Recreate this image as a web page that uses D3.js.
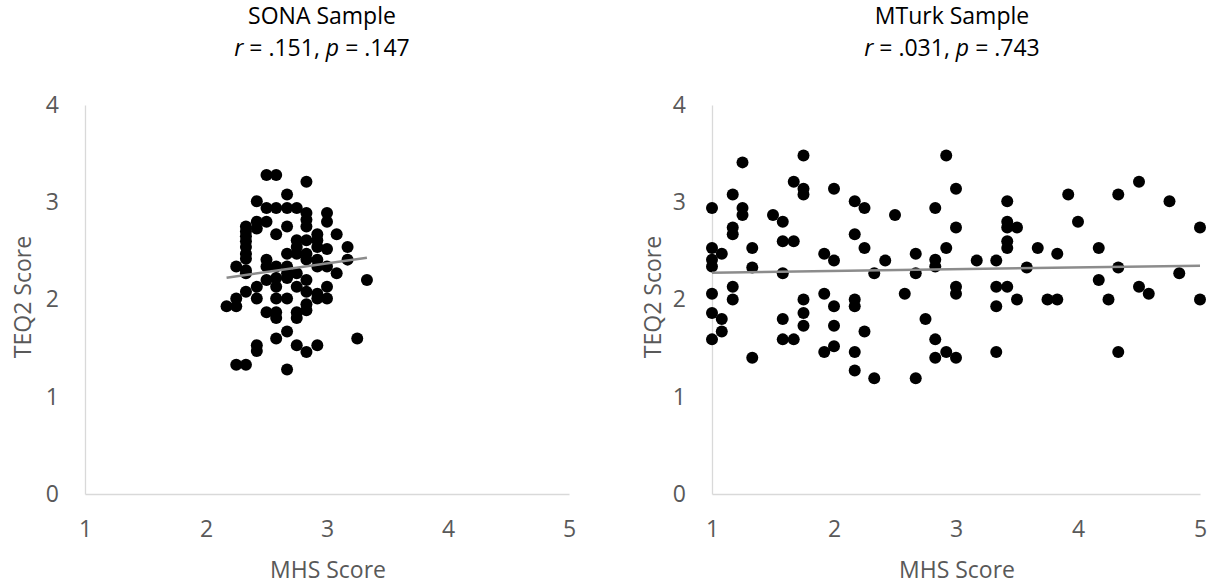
<!DOCTYPE html>
<html>
<head>
<meta charset="utf-8">
<script src="https://cdn.jsdelivr.net/npm/d3@7"></script>
<style>
  body { margin: 0; background: #fff; }
  svg { font-family: "Open Sans", "Noto Sans", sans-serif; }
</style>
</head>
<body>
<svg></svg>
<script>
const svgWidth = 1217
const svgHeight = 588

// tick values
const xTicks = [1, 2, 3, 4, 5]
const yTicks = [0, 1, 2, 3, 4]

// SONA sample: [MHS, TEQ2]
const sonaPoints = [
  [2.50, 3.28], [2.58, 3.28], [2.83, 3.21], [2.67, 3.08], [2.42, 3.01],
  [2.50, 2.94], [2.58, 2.94], [2.67, 2.94], [2.75, 2.94], [2.83, 2.89],
  [3.00, 2.89], [2.83, 2.82], [3.00, 2.80], [2.42, 2.80], [2.50, 2.80],
  [2.33, 2.75], [2.83, 2.75], [2.67, 2.75], [2.33, 2.70], [2.42, 2.73],
  [2.33, 2.65], [2.58, 2.67], [2.92, 2.67], [3.08, 2.67], [2.33, 2.60],
  [2.75, 2.61], [2.83, 2.61], [2.92, 2.61], [2.33, 2.54], [2.92, 2.54],
  [3.00, 2.52], [3.17, 2.54], [2.33, 2.47], [2.67, 2.47], [2.75, 2.47],
  [2.83, 2.47], [2.33, 2.42], [2.50, 2.41], [2.83, 2.41], [2.92, 2.41],
  [3.17, 2.41], [2.25, 2.34], [2.33, 2.30], [2.50, 2.34], [2.58, 2.34],
  [2.67, 2.34], [2.92, 2.34], [3.00, 2.34], [3.08, 2.27], [2.33, 2.27],
  [2.67, 2.27], [2.58, 2.22], [2.67, 2.22], [2.83, 2.20], [3.33, 2.20],
  [2.42, 2.13], [2.58, 2.13], [2.75, 2.13], [3.00, 2.13], [2.33, 2.08],
  [2.83, 2.08], [2.92, 2.06], [2.25, 2.01], [2.42, 2.01], [2.58, 2.01],
  [2.67, 2.01], [2.92, 2.01], [3.00, 2.01], [2.17, 1.93], [2.25, 1.93],
  [2.83, 1.95], [2.50, 1.87], [2.58, 1.87], [2.75, 1.87], [2.83, 1.89],
  [2.58, 1.81], [2.75, 1.81], [2.67, 1.67], [2.58, 1.60], [3.25, 1.60],
  [2.42, 1.53], [2.75, 1.53], [2.92, 1.53], [2.42, 1.47], [2.83, 1.46],
  [2.25, 1.33], [2.33, 1.33], [2.67, 1.28], [2.75, 2.27], [2.50, 2.20],
  [2.75, 2.54]
]

// MTurk sample: [MHS, TEQ2]
const mturkPoints = [
  [1.00, 2.94], [1.00, 2.53], [1.00, 2.41], [1.00, 2.34], [1.00, 2.06], [1.00, 1.86], [1.00, 1.59],
  [1.08, 2.47], [1.08, 1.80], [1.08, 1.67],
  [1.17, 3.08], [1.17, 2.74], [1.17, 2.67], [1.17, 2.13], [1.17, 2.00],
  [1.25, 3.41], [1.25, 2.94], [1.25, 2.87],
  [1.33, 2.53], [1.33, 2.33], [1.33, 1.40],
  [1.50, 2.87], [1.58, 2.80], [1.58, 2.60], [1.67, 2.60], [1.58, 2.27], [1.58, 1.80], [1.58, 1.59], [1.67, 1.59],
  [1.67, 3.21], [1.75, 3.48], [1.75, 3.14], [1.75, 3.08], [1.75, 2.00], [1.75, 1.86], [1.75, 1.73],
  [1.92, 2.47], [1.92, 2.06], [1.92, 1.46],
  [2.00, 3.14], [2.00, 2.40], [2.00, 1.93], [2.00, 1.73], [2.00, 1.52],
  [2.17, 3.01], [2.17, 2.67], [2.17, 2.00], [2.17, 1.93], [2.17, 1.46], [2.17, 1.27],
  [2.25, 2.94], [2.25, 2.53], [2.25, 1.67],
  [2.33, 2.27], [2.33, 1.19], [2.42, 2.40], [2.50, 2.87], [2.58, 2.06],
  [2.67, 2.47], [2.67, 2.27], [2.67, 1.19], [2.75, 1.80],
  [2.83, 2.94], [2.83, 2.41], [2.83, 2.34], [2.83, 1.59], [2.83, 1.40],
  [2.92, 3.48], [2.92, 2.53], [2.92, 1.46],
  [3.00, 3.14], [3.00, 2.74], [3.00, 2.13], [3.00, 2.06], [3.00, 1.40],
  [3.17, 2.40],
  [3.33, 2.40], [3.33, 2.13], [3.33, 1.93], [3.33, 1.46],
  [3.42, 3.01], [3.42, 2.80], [3.42, 2.74], [3.42, 2.60], [3.42, 2.53], [3.42, 2.13],
  [3.50, 2.74], [3.50, 2.00], [3.58, 2.33], [3.67, 2.53],
  [3.75, 2.00], [3.83, 2.00], [3.83, 2.47], [3.92, 3.08], [4.00, 2.80],
  [4.17, 2.53], [4.17, 2.20], [4.25, 2.00],
  [4.33, 3.08], [4.33, 2.33], [4.33, 1.46],
  [4.50, 3.21], [4.50, 2.13], [4.58, 2.06],
  [4.75, 3.01], [4.83, 2.27],
  [5.00, 2.74], [5.00, 2.00]
]

// linear trend lines: [intercept, slope]
const sonaTrend = [1.840, 0.177]
const mturkTrend = [2.258, 0.0178]

const panels = [
  { title: "SONA Sample", r: ".151", p: ".147", points: sonaPoints, trend: sonaTrend,
    left: 85, right: 569, titleX: 322, yTitleX: 31 },
  { title: "MTurk Sample", r: ".031", p: ".743", points: mturkPoints, trend: mturkTrend,
    left: 712, right: 1200, titleX: 952, yTitleX: 661 }
]

const plotTop = 105
const plotBottom = 494
const fontSize = 23
const axisColor = "#d9d9d9"
const textColor = "#595959"

const svg = d3.select("svg")
  .attr("width", svgWidth)
  .attr("height", svgHeight)

panels.forEach((panel) => {
  const xScale = d3.scaleLinear()
    .domain([1, 5])
    .range([panel.left, panel.right])
  const yScale = d3.scaleLinear()
    .domain([0, 4])
    .range([plotBottom, plotTop])

  // titles
  svg.append("text")
    .text(panel.title)
    .attr("x", panel.titleX)
    .attr("y", 24)
    .attr("text-anchor", "middle")
    .attr("font-size", fontSize)
    .attr("fill", "#000")

  const sub = svg.append("text")
    .attr("x", panel.titleX)
    .attr("y", 56)
    .attr("text-anchor", "middle")
    .attr("font-size", fontSize)
    .attr("fill", "#000")
  sub.append("tspan").text("r").attr("font-style", "italic")
  sub.append("tspan").text(` = ${panel.r}, `)
  sub.append("tspan").text("p").attr("font-style", "italic")
  sub.append("tspan").text(` = ${panel.p}`)

  // axes
  const xAxis = svg.append("g")
    .attr("transform", `translate(0,${plotBottom})`)
    .call(d3.axisBottom(xScale).tickValues(xTicks).tickSize(0).tickPadding(27).tickFormat(d3.format("d")))
  const yAxis = svg.append("g")
    .attr("transform", `translate(${panel.left},0)`)
    .call(d3.axisLeft(yScale).tickValues(yTicks).tickSize(0).tickPadding(26).tickFormat(d3.format("d")))

  ;[xAxis, yAxis].forEach((g) => {
    g.select(".domain").attr("stroke", axisColor).attr("stroke-width", 1.3)
    g.selectAll("text")
      .attr("font-size", fontSize)
      .attr("fill", textColor)
      .attr("font-family", "\"Open Sans\", sans-serif")
  })

  // axis titles
  svg.append("text")
    .text("MHS Score")
    .attr("x", (panel.left + panel.right) / 2 + 1)
    .attr("y", 578)
    .attr("text-anchor", "middle")
    .attr("font-size", fontSize)
    .attr("fill", textColor)

  svg.append("text")
    .text("TEQ2 Score")
    .attr("transform", `translate(${panel.yTitleX},297) rotate(-90)`)
    .attr("text-anchor", "middle")
    .attr("font-size", fontSize)
    .attr("fill", textColor)

  // points
  svg.append("g")
    .selectAll("circle")
    .data(panel.points)
    .enter()
    .append("circle")
    .attr("cx", (d) => xScale(d[0]))
    .attr("cy", (d) => yScale(d[1]))
    .attr("r", 6)
    .attr("fill", "#000")

  // trend line across data range
  const xs = d3.extent(panel.points, (d) => d[0])
  svg.append("line")
    .attr("x1", xScale(xs[0]))
    .attr("y1", yScale(panel.trend[0] + panel.trend[1] * xs[0]))
    .attr("x2", xScale(xs[1]))
    .attr("y2", yScale(panel.trend[0] + panel.trend[1] * xs[1]))
    .attr("stroke", "#8c8c8c")
    .attr("stroke-width", 2.5)
})
</script>
</body>
</html>
